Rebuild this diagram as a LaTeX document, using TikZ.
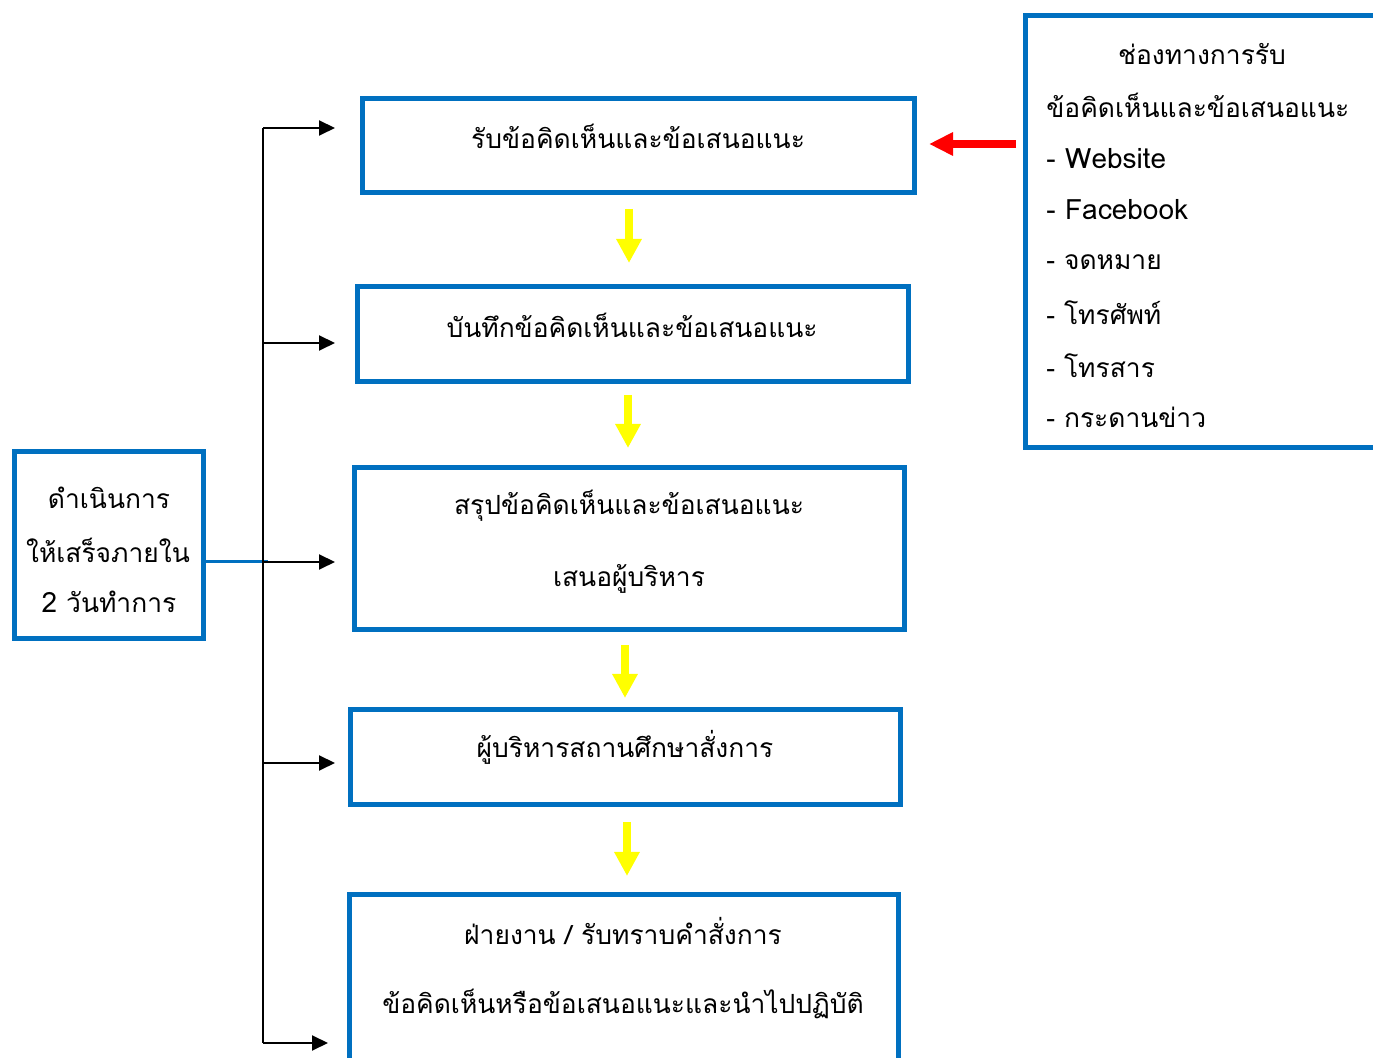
\documentclass[tikz,border=0pt]{standalone}
\usepackage{fontspec}
\newfontfamily\thai[Script=Thai]{Loma}
\usetikzlibrary{arrows.meta}
\definecolor{boxblue}{HTML}{0070C0}
\definecolor{arrowyellow}{HTML}{FFFF00}
\newcommand{\thaitext}{\thai\fontsize{13.2}{36.5}\selectfont}
\newcommand{\latintext}{\fontsize{14}{36.5}\selectfont}
\tikzset{
  flowbox/.style={draw=boxblue, line width=2.5pt, inner sep=0pt, minimum width=275pt, minimum height=47.5pt, align=center, font=\thaitext},
  ytip/.style={draw=arrowyellow, line width=4pt, -{Triangle[length=12pt,width=12pt,fill=arrowyellow]}},
  blk/.style={draw=black, line width=1pt, -{Triangle[length=8pt,width=7.5pt]}},
  lbl/.style={inner sep=0pt, font=\thaitext},
}
\begin{document}
\begin{tikzpicture}[x=0.5pt,y=-0.5pt]
\useasboundingbox[fill=white] (0,0) rectangle (1373,1058);
% main flow boxes
\node[flowbox, minimum width=276pt, minimum height=47pt] (b1) at (638.5,145.5) {};
\node[lbl] (t1) at (638,136) {รับข้อคิดเห็นและข้อเสนอแนะ};
\node[flowbox, minimum width=275.5pt] (b2) at (633,334) {};
\node[lbl] (t2) at (632,325) {บันทึกข้อคิดเห็นและข้อเสนอแนะ};
\node[flowbox, minimum height=81pt] (b3) at (629.5,548.5) {};
\node[lbl] (t3a) at (629,506) {สรุปข้อคิดเห็นและข้อเสนอแนะ};
\node[lbl] (t3b) at (629,579) {เสนอผู้บริหาร};
\node[flowbox] (b4) at (625.5,757) {};
\node[lbl] (t4) at (625,747) {ผู้บริหารสถานศึกษาสั่งการ};
\node[flowbox, minimum width=274.5pt, minimum height=116.5pt] (b5) at (624,1011) {};
\node[lbl] (t5a) at (623,931) {ฝ่ายงาน / รับทราบคำสั่งการ};
\node[lbl] (t5b) at (623,1004) {ข้อคิดเห็นหรือข้อเสนอแนะและนำไปปฏิบัติ};
% left box
\node[flowbox, minimum width=94.5pt, minimum height=93.5pt] (lbox) at (109,545) {};
\node[lbl] (l1) at (109,498) {ดำเนินการ};
\node[lbl] (l2) at (108,550) {ให้เสร็จภายใน};
\node[lbl] (l3) at (109,602) {{\latintext 2} วันทำการ};
% right box
\node[flowbox, minimum width=200pt, minimum height=216pt] (rbox) at (1225.5,231.5) {};
\node[lbl] (r0) at (1202,54) {ช่องทางการรับ};
\node[lbl, anchor=west] (r1) at (1046,105) {ข้อคิดเห็นและข้อเสนอแนะ};
\node[lbl, anchor=west, font=\thai\latintext] (r2) at (1046,159) {- Website};
\node[lbl, anchor=west, font=\thai\latintext] (r3) at (1046,210) {- Facebook};
\node[lbl, anchor=west] (r4) at (1046,262) {- จดหมาย};
\node[lbl, anchor=west] (r5) at (1046,313) {- โทรศัพท์};
\node[lbl, anchor=west] (r6) at (1046,366) {- โทรสาร};
\node[lbl, anchor=west] (r7) at (1046,417) {- กระดานข่าว};
% yellow arrows
\coordinate (y1) at ([xshift=-4.75pt]b1.south);
\coordinate (y2) at ([xshift=-2.5pt]b2.south);
\coordinate (y3) at ([xshift=-2.25pt]b3.south);
\coordinate (y4) at ([xshift=0.75pt]b4.south);
\draw[ytip, shorten <=7pt, shorten >=10.5pt] (y1) -- (y1 |- b2.north);
\draw[ytip, shorten <=5.5pt, shorten >=8.5pt] (y2) -- (y2 |- b3.north);
\draw[ytip, shorten <=6.5pt, shorten >=4.5pt] (y3) -- (y3 |- b4.north);
\draw[ytip, shorten <=7.5pt, shorten >=8pt] (y4) -- (y4 |- b5.north);
% red arrow
\coordinate (ry) at (0,144);
\draw[draw=red, line width=4pt, -{Triangle[length=12pt,width=11pt,fill=red]}, shorten <=3.5pt, shorten >=6pt] (rbox.west |- ry) -- (b1.east |- ry);
% black spine and arrows
\coordinate (s1) at (263,128);
\coordinate (s2) at (263,343);
\coordinate (s3) at (263,562);
\coordinate (s4) at (263,763);
\coordinate (s5) at (263,1043);
\coordinate (e1) at (335,128);
\coordinate (e2) at (335,343);
\coordinate (e3) at (335,562);
\coordinate (e4) at (335,763);
\coordinate (e5) at (328,1043);
\coordinate (bj) at (268,562);
\draw[draw=boxblue, line width=1.5pt] (lbox.east |- s3) -- (bj);
\draw[draw=black, line width=1pt] (s1) -- (s5);
\draw[blk] (s1) -- (e1);
\draw[blk] (s2) -- (e2);
\draw[blk] (s3) -- (e3);
\draw[blk] (s4) -- (e4);
\draw[blk] (s5) -- (e5);
\end{tikzpicture}
\end{document}
